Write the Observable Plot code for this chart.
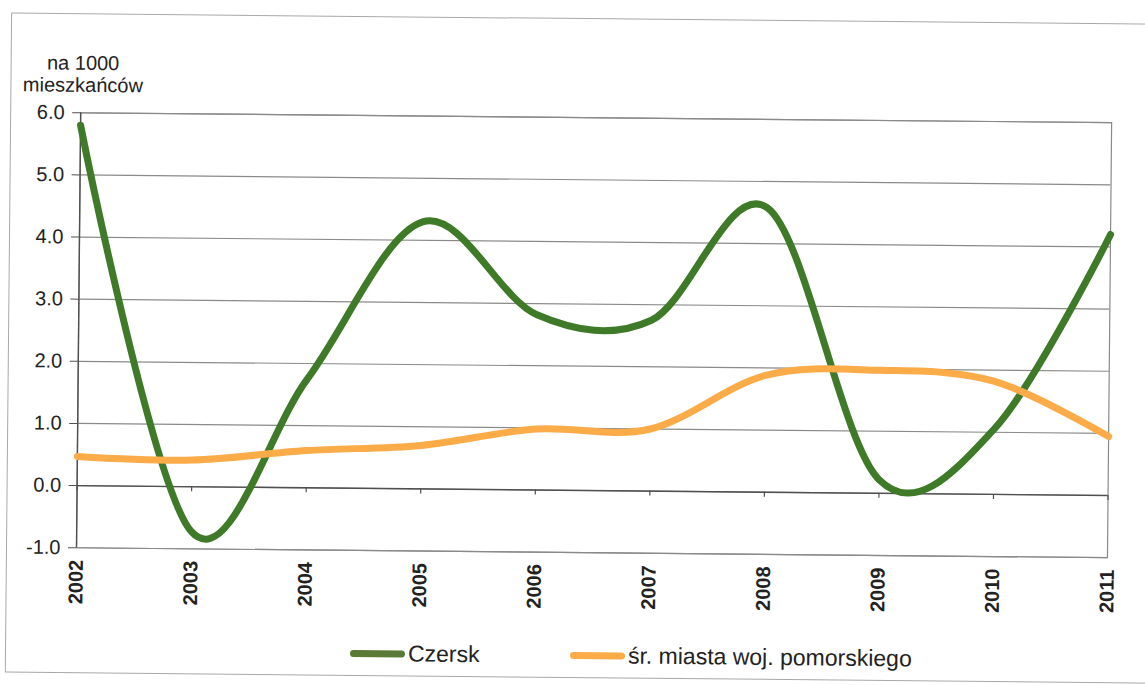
<!DOCTYPE html>
<html>
<head>
<meta charset="utf-8">
<script src="https://cdn.jsdelivr.net/npm/d3@7"></script>
<script src="https://cdn.jsdelivr.net/npm/@observablehq/plot@0.6"></script>
<style>
  html, body { margin: 0; padding: 0; background: #fff; }
  #wrap {
    position: absolute; left: 0; top: 0; width: 1145px; height: 685px;
    transform: rotate(0.55deg); transform-origin: 572px 342px;
    font-family: "Liberation Sans", Arial, sans-serif; color: #222;
  }
  #frame {
    position: absolute; left: 8px; top: 18px; width: 1180px; height: 660px;
    border: 1.5px solid #a8a8a8; box-sizing: border-box;
  }
  #chart { position: absolute; left: 0; top: 0; }
  #legend { position: absolute; left: 0; top: 640px; width: 1145px; height: 30px; }
  .item { position: absolute; top: 0; display: flex; align-items: center; height: 30px; font-size: 23px; }
  .sw { display: inline-block; width: 55px; height: 7px; border-radius: 4px; margin-right: 3px; }
</style>
</head>
<body>
<div id="wrap">
  <div id="frame"></div>
  <div id="chart"></div>
  <div id="legend"></div>
</div>
<script>
const years = [2002, 2003, 2004, 2005, 2006, 2007, 2008, 2009, 2010, 2011];
const czersk = [5.8, -0.72, 1.75, 4.3, 2.82, 2.75, 4.58, 0.22, 1.05, 4.2];
const pomorskie = [0.47, 0.43, 0.6, 0.7, 0.98, 1.0, 1.88, 1.98, 1.82, 0.95];
const yTicks = [-1, 0, 1, 2, 3, 4, 5, 6];
const seriesNames = ["Czersk", "śr. miasta woj. pomorskiego"];
const colors = ["#3f7a28", "#fbab48"];
const legendSwatch = ["#5a7a35", "#fbab48"];
const yLabel = "na 1000\nmieszkańców";
const tickDepth = 0.08;

const data = years.flatMap((yr, i) => [
  {year: yr, value: czersk[i], series: seriesNames[0]},
  {year: yr, value: pomorskie[i], series: seriesNames[1]}
]);

const chart = Plot.plot({
  width: 1145,
  height: 640,
  marginLeft: 78,
  marginRight: 36,
  marginTop: 117,
  marginBottom: 88,
  style: {fontFamily: "Liberation Sans, Arial, sans-serif", background: "transparent", color: "#222", overflow: "visible"},
  x: {domain: [2002, 2011]},
  y: {domain: [-1, 6]},
  color: {domain: seriesNames, range: colors},
  marks: [
    Plot.gridY(yTicks, {stroke: "#8a8a8a", strokeOpacity: 1, strokeWidth: 1.2}),
    Plot.frame({stroke: "#8a8a8a", strokeWidth: 1.2}),
    Plot.ruleY([0], {stroke: "#505050", strokeWidth: 1.4}),
    Plot.ruleX([years[0]], {stroke: "#505050", strokeWidth: 1.4}),
    Plot.ruleX(years, {x: d => d, y1: 0, y2: -tickDepth, stroke: "#505050", strokeWidth: 1.2}),
    Plot.axisY(yTicks, {tickFormat: d => d.toFixed(1), tickSize: 8, tickPadding: 8, fontSize: 20, stroke: "#505050", label: null}),
    Plot.axisX(years, {tickFormat: d => String(d), tickRotate: -90, tickSize: 0, tickPadding: 12, fontSize: 20, fontWeight: "bold", label: null}),
    Plot.line(data, {x: "year", y: "value", z: "series", stroke: "series", strokeWidth: 7, curve: "cardinal", tension: 0, strokeLinecap: "round", strokeLinejoin: "round"}),
    Plot.text([yLabel], {frameAnchor: "top-left", dx: 2, dy: -39, textAnchor: "middle", lineAnchor: "middle", lineHeight: 1.1, fontSize: 20, fill: "#222"})
  ]
});
document.getElementById("chart").appendChild(chart);

const legend = document.getElementById("legend");
const lefts = [353, 573];
seriesNames.forEach((name, i) => {
  const item = document.createElement("div");
  item.className = "item";
  item.style.left = lefts[i] + "px";
  const sw = document.createElement("span");
  sw.className = "sw";
  sw.style.background = legendSwatch[i];
  const tx = document.createElement("span");
  tx.textContent = name;
  item.appendChild(sw);
  item.appendChild(tx);
  legend.appendChild(item);
});
</script>
</body>
</html>
